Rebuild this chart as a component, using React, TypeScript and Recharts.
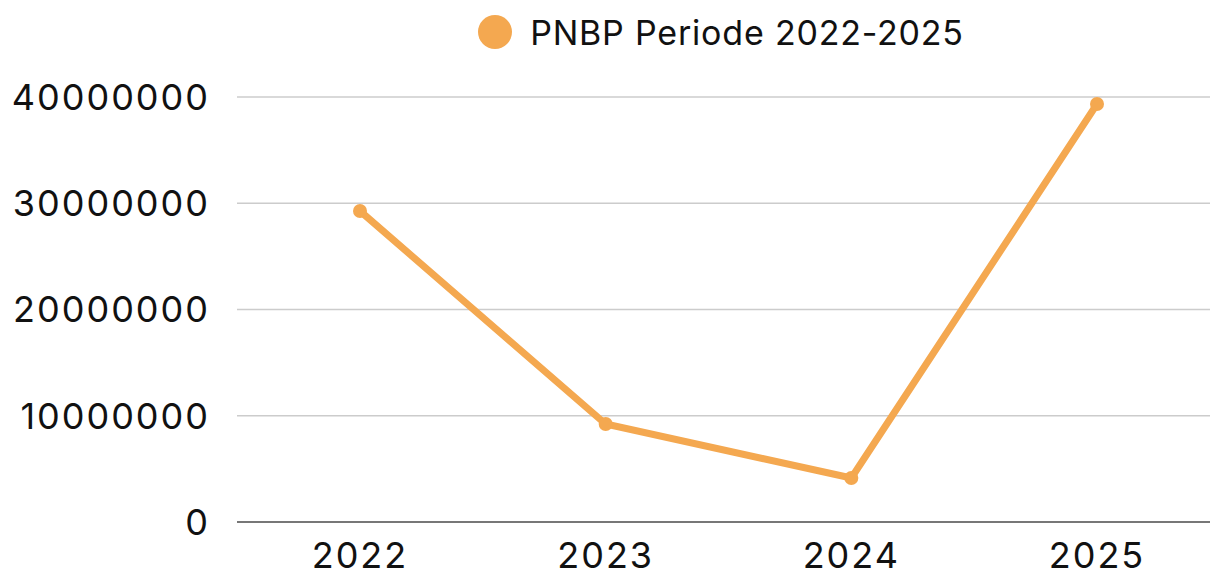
import React from "react";
import { LineChart, Line, XAxis, YAxis, CartesianGrid, Legend } from "recharts";

const years = ["2022", "2023", "2024", "2025"];
const pnbpValues = [29270000, 9220000, 4140000, 39340000];
const yTicks = [0, 10000000, 20000000, 30000000, 40000000];
const seriesName = "PNBP Periode 2022-2025";

const data = years.map((y, i) => ({ year: y, value: pnbpValues[i] }));

const COLOR = "#F4A850";
const FONT = "Inter, 'DejaVu Sans', sans-serif";

const LegendContent = () => (
  <div style={{ display: "flex", justifyContent: "center", alignItems: "center", fontFamily: FONT, height: 40 }}>
    <svg width={36} height={36} style={{ marginRight: 17, marginLeft: 0 }}>
      <circle cx={18} cy={18} r={17} fill={COLOR} />
    </svg>
    <span style={{ fontSize: 34, color: "#111", letterSpacing: 0.8 }}>{seriesName}</span>
  </div>
);

export default function App() {
  return (
    <div style={{ position: "fixed", left: 0, top: 0, width: 1210, height: 569, overflow: "hidden", background: "#fff" }}>
      <LineChart width={1220} height={620} data={data} margin={{ top: 57, right: 0, left: 0, bottom: 38 }}>
        <CartesianGrid horizontal vertical={false} stroke="#cccccc" strokeWidth={1.5} />
        <Legend
          verticalAlign="top"
          content={<LegendContent />}
          wrapperStyle={{ top: 12, left: 229, width: 983, height: 40 }}
        />
        <XAxis
          dataKey="year"
          padding={{ left: 123, right: 123 }}
          tickLine={false}
          axisLine={{ stroke: "#777777", strokeWidth: 2 }}
          tick={{ fontSize: 36, fill: "#111", fontFamily: FONT, letterSpacing: 2 }}
          tickSize={0}
          tickMargin={20}
          height={60}
        />
        <YAxis
          domain={[0, 40000000]}
          ticks={yTicks}
          width={237}
          axisLine={false}
          tickLine={false}
          tickSize={0}
          tickMargin={27}
          tick={{ fontSize: 36, fill: "#111", fontFamily: FONT, letterSpacing: 2 }}
        />
        <Line
          type="linear"
          dataKey="value"
          name={seriesName}
          stroke={COLOR}
          strokeWidth={7}
          dot={{ r: 7, fill: COLOR, stroke: COLOR, strokeWidth: 0 }}
          activeDot={false}
          isAnimationActive={false}
        />
      </LineChart>
    </div>
  );
}
